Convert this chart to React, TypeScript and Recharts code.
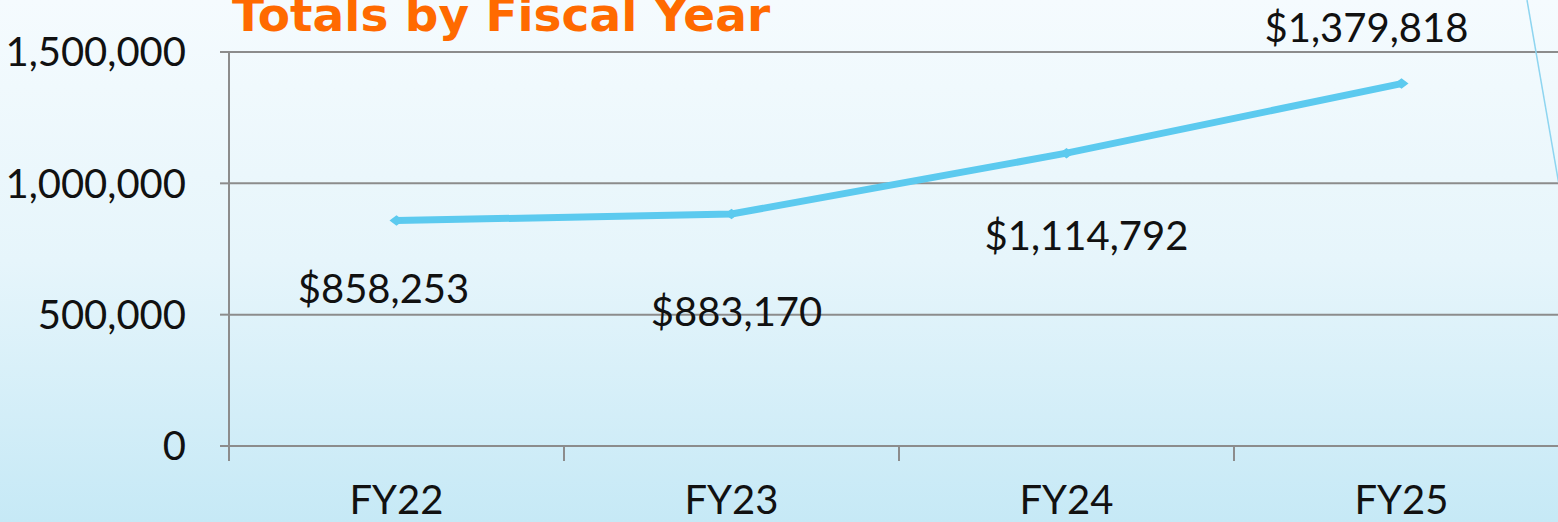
import { CartesianGrid, LabelList, Line, LineChart, XAxis, YAxis } from "recharts";

const years = ["FY22", "FY23", "FY24", "FY25"];
const totals = [858253, 883170, 1114792, 1379818];
const yTicks = [0, 500000, 1000000, 1500000];

// label nudges relative to each point, as placed in the original slide
const labelShift = [
  { dx: -13, dy: 82 },
  { dx: 5, dy: 112 },
  { dx: 20, dy: 97 },
  { dx: -35, dy: -42 },
];

const data = years.map((year, i) => ({ year, total: totals[i] }));

const W = 1600;
const H = 522;
const LEFT = 229;
const RIGHT_MARGIN = 31;
const BAND = (W - LEFT - RIGHT_MARGIN) / years.length;
const GRID = "#8c8c8c";
const LINE = "#5ccaef";
const FONT = "Lato, 'Open Sans', sans-serif";

function Diamond(props: any) {
  const { cx, cy } = props;
  if (cx == null || cy == null) return null;
  const r = 7;
  return (
    <path
      d={`M${cx - r},${cy} L${cx},${cy - r * 0.75} L${cx + r},${cy} L${cx},${cy + r * 0.75} Z`}
      fill={LINE}
    />
  );
}

function XTick(props: any) {
  const { x, y, payload } = props;
  return (
    <g>
      <line x1={x - BAND / 2} x2={x - BAND / 2} y1={y} y2={y + 15} stroke={GRID} strokeWidth={2} />
      <text x={x} y={y + 68} textAnchor="middle" fontSize={40} fontFamily={FONT} fill="#111">
        {payload.value}
      </text>
    </g>
  );
}

function ValueLabel(props: any) {
  const { x, y, value, index } = props;
  const s = labelShift[index] ?? { dx: 0, dy: 0 };
  return (
    <text x={x + s.dx} y={y + s.dy} textAnchor="middle" fontSize={40} fontFamily={FONT} fill="#111">
      {`$${Number(value).toLocaleString("en-US")}`}
    </text>
  );
}

export default function App() {
  return (
    <div
      style={{
        position: "absolute",
        left: 0,
        top: 0,
        width: 1558,
        height: H,
        overflow: "hidden",
        background: "linear-gradient(to bottom, #f5fbfe 0%, #e6f5fb 50%, #c6e9f6 100%)",
      }}
    >
      <LineChart width={W} height={H} data={data} margin={{ top: 52, right: RIGHT_MARGIN, bottom: 0, left: 0 }}>
        <CartesianGrid vertical={false} stroke={GRID} strokeWidth={2} />
        <XAxis
          dataKey="year"
          scale="band"
          height={76}
          axisLine={{ stroke: GRID, strokeWidth: 2 }}
          tickLine={false}
          tickSize={0}
          tickMargin={0}
          tick={<XTick />}
          interval={0}
        />
        <YAxis
          width={LEFT}
          domain={[0, 1500000]}
          ticks={yTicks}
          interval={0}
          axisLine={{ stroke: GRID, strokeWidth: 2 }}
          tickLine={{ stroke: GRID, strokeWidth: 2 }}
          tickSize={9}
          tickMargin={34}
          tickFormatter={(v: number) => v.toLocaleString("en-US")}
          tick={{ fontSize: 40, fontFamily: FONT, fill: "#111" }}
        />
        <Line
          type="linear"
          dataKey="total"
          stroke={LINE}
          strokeWidth={7}
          dot={<Diamond />}
          activeDot={false}
          isAnimationActive={false}
        >
          <LabelList dataKey="total" content={<ValueLabel />} />
        </Line>
      </LineChart>
      <svg width={1558} height={H} style={{ position: "absolute", left: 0, top: 0, pointerEvents: "none" }}>
        <text x={232} y={31} fontSize={47} fontWeight="bold" fontFamily="'DejaVu Sans', Verdana, sans-serif" fill="#ff6a00">
          Totals by Fiscal Year
        </text>
        <line x1={1527} y1={0} x2={1559} y2={185} stroke="#8ed5f0" strokeWidth={1.5} />
      </svg>
    </div>
  );
}
